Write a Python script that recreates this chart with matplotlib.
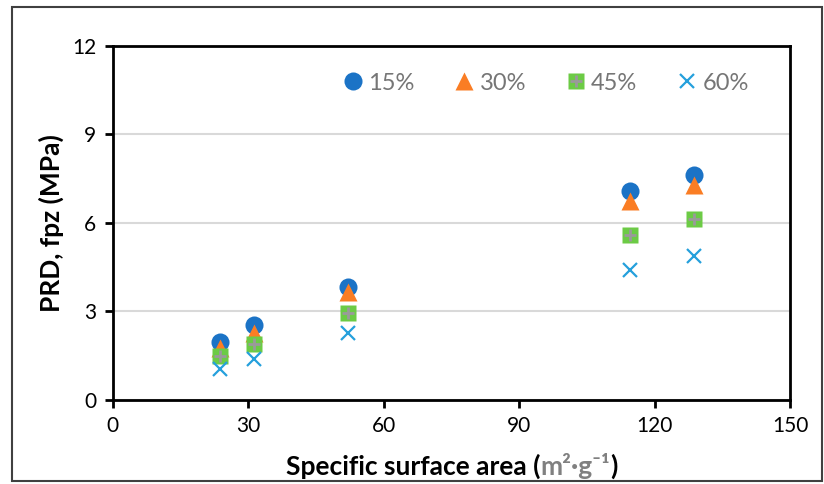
import matplotlib.pyplot as plt
from matplotlib.offsetbox import TextArea, HPacker, AnchoredOffsetbox
from matplotlib.patches import Rectangle

plt.rcParams['font.family'] = ['Lato', 'DejaVu Sans']

# specific surface area (m2/g) of each sample
ssa = [23.7, 31.2, 52.0, 114.6, 128.8]

prd_15 = [1.97, 2.55, 3.84, 7.08, 7.63]
prd_30 = [1.76, 2.27, 3.64, 6.75, 7.29]
prd_45 = [1.47, 1.88, 2.95, 5.60, 6.14]
prd_60 = [1.05, 1.40, 2.27, 4.40, 4.87]

labels = ['15%', '30%', '45%', '60%']

fig = plt.figure(figsize=(8.24, 4.84), dpi=100)
ax = fig.add_axes([0.137, 0.174, 0.822, 0.731])

ax.plot(ssa, prd_15, 'o', ms=13, color='#1B73C6', mec='none', label=labels[0])
ax.plot(ssa, prd_30, '^', ms=13, color='#FA7D24', mec='none', label=labels[1])
sq, = ax.plot(ssa, prd_45, 's', ms=11, color='#6CCB45', mec='none')
pl, = ax.plot(ssa, prd_45, '+', ms=9, mew=2, color='#9A9A9A')
ax.plot(ssa, prd_60, 'x', ms=10, mew=1.6, color='#25A0DC', label=labels[3])

ax.set_xlim(0, 150)
ax.set_ylim(0, 12)
ax.set_xticks(range(0, 151, 30))
ax.set_yticks(range(0, 13, 3))
ax.yaxis.grid(True, color='#D9D9D9', lw=1.5)
ax.set_axisbelow(True)
for s in ax.spines.values():
    s.set_linewidth(2)
    s.set_color('black')
ax.tick_params(labelsize=15, width=2, length=6, direction='out', pad=6)

ax.set_ylabel('PRD, fpz (MPa)', fontsize=19, fontweight='bold', labelpad=6)

h, l = ax.get_legend_handles_labels()
h.insert(2, (sq, pl))
l.insert(2, labels[2])
leg = ax.legend(h, l, ncol=4, loc='upper right', bbox_to_anchor=(0.97, 0.985),
                frameon=False, fontsize=17, handletextpad=0.1,
                columnspacing=1.55, handlelength=1.1, labelcolor='#767676')

# x label with grey unit
tp = dict(size=19, weight='bold')
parts = [TextArea('Specific surface area (', textprops=dict(tp, color='black')),
         TextArea('m²·g⁻¹', textprops=dict(tp, color='#808080')),
         TextArea(')', textprops=dict(tp, color='black'))]
box = HPacker(children=parts, align='baseline', pad=0, sep=0)
anch = AnchoredOffsetbox(loc='lower center', child=box, frameon=False,
                         bbox_to_anchor=(0.548, 0.01), bbox_transform=fig.transFigure,
                         pad=0, borderpad=0)
fig.add_artist(anch)

fig.add_artist(Rectangle((0.014, 0.006), 0.984, 0.98, transform=fig.transFigure,
                         fill=False, edgecolor='#404040', lw=1.5))

fig.savefig('out.png')
